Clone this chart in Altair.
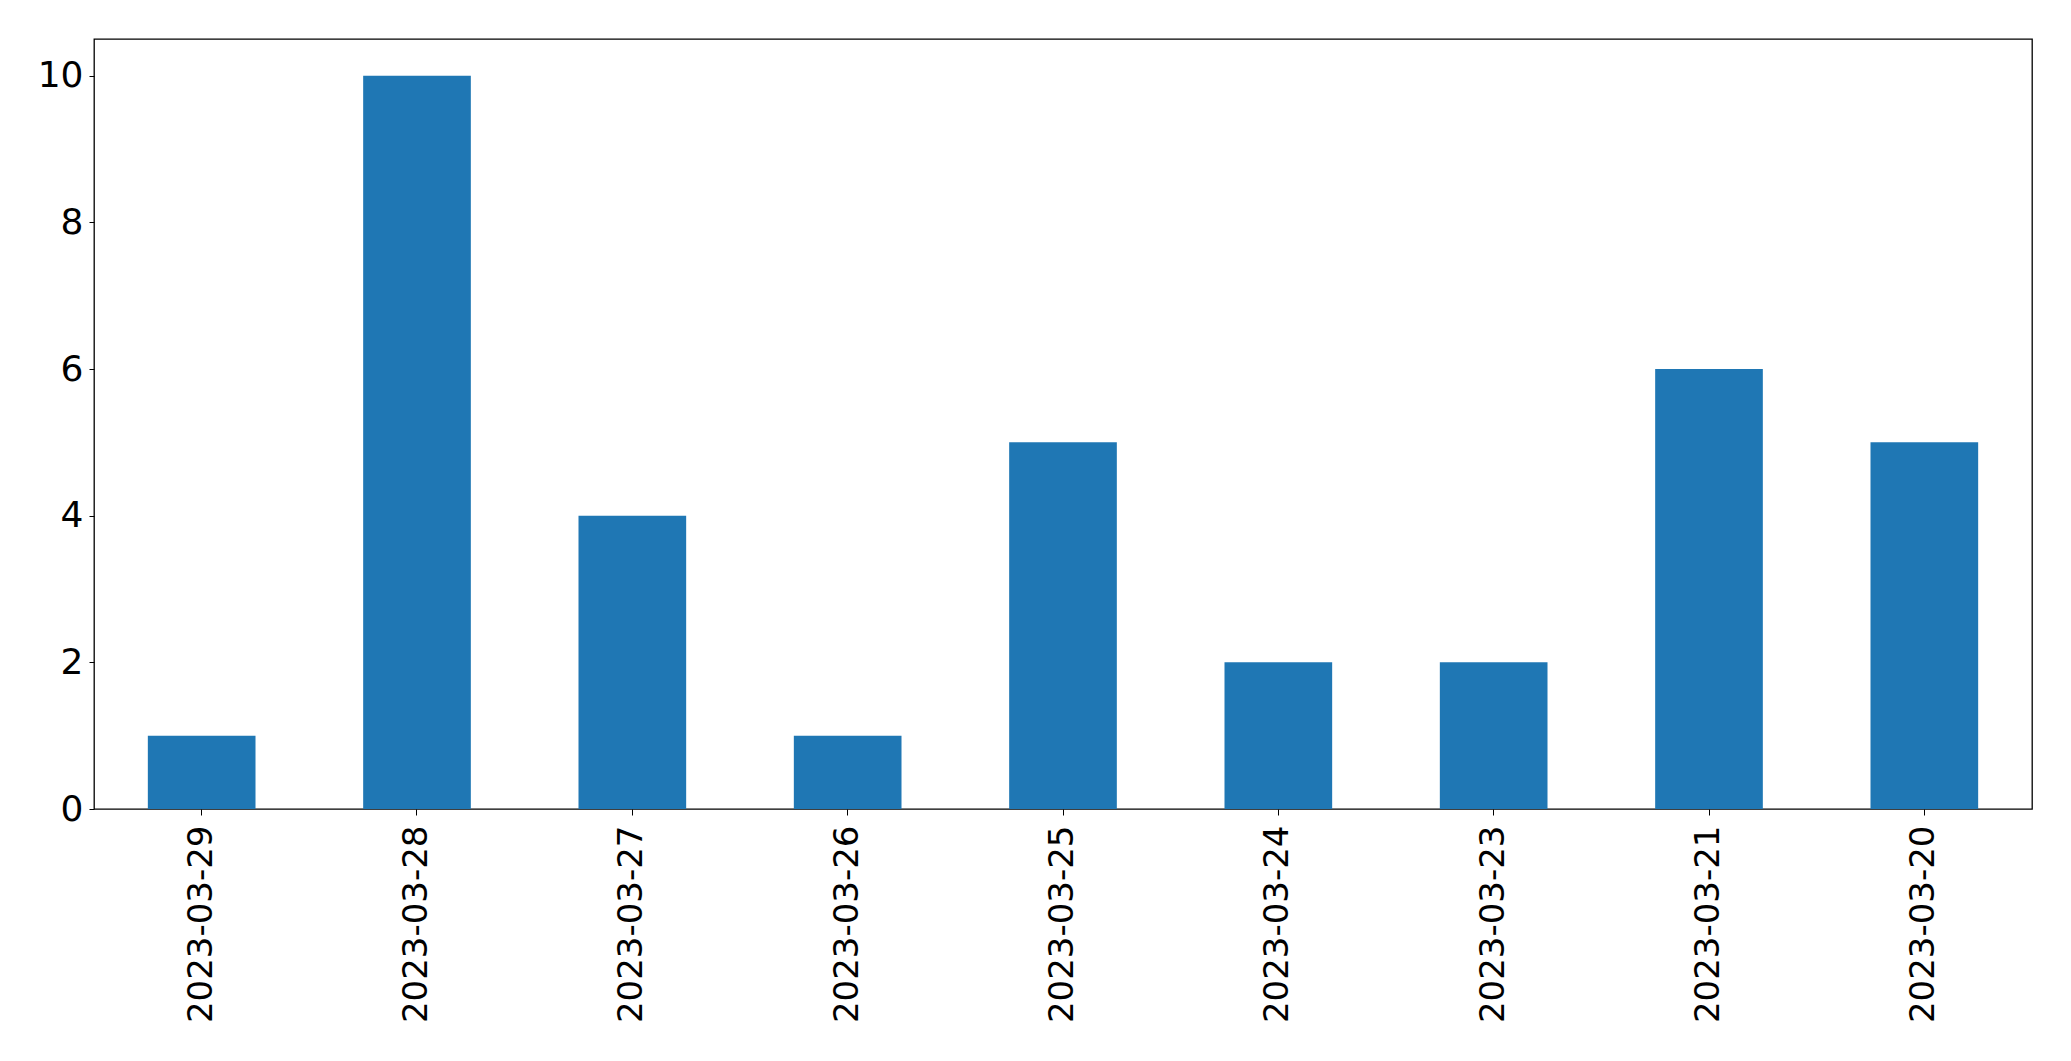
import altair as alt
import pandas as pd

dates = ["2023-03-29", "2023-03-28", "2023-03-27", "2023-03-26", "2023-03-25",
         "2023-03-24", "2023-03-23", "2023-03-21", "2023-03-20"]
counts = [1, 10, 4, 1, 5, 2, 2, 6, 5]

df = pd.DataFrame({"date": dates, "count": counts})

chart = alt.Chart(df).mark_bar(color="#1f77b4").encode(
    x=alt.X("date:N", sort=dates, title=None,
            scale=alt.Scale(paddingInner=0.5, paddingOuter=0.25),
            axis=alt.Axis(labelAngle=-90, labelFontSize=34, labelColor="black",
                          labelFont="DejaVu Sans", tickColor="black", tickSize=6,
                          labelPadding=10, domain=False, tickWidth=1, labelLimit=0)),
    y=alt.Y("count:Q", title=None,
            scale=alt.Scale(domain=[0, 10.5], nice=False),
            axis=alt.Axis(values=[0, 2, 4, 6, 8, 10], labelFontSize=36,
                          labelColor="black", labelFont="DejaVu Sans",
                          tickColor="black", tickSize=5, labelPadding=6,
                          grid=False, domain=False, labelFlush=False, tickWidth=1)),
).properties(
    width=1938, height=770,
    autosize=alt.AutoSizeParams(type="none"),
    padding={"left": 86, "top": 31, "right": 20, "bottom": 220},
).configure_view(stroke="black", strokeWidth=1.3)

chart.save("out.html", embed_options={"renderer": "svg", "actions": False})
